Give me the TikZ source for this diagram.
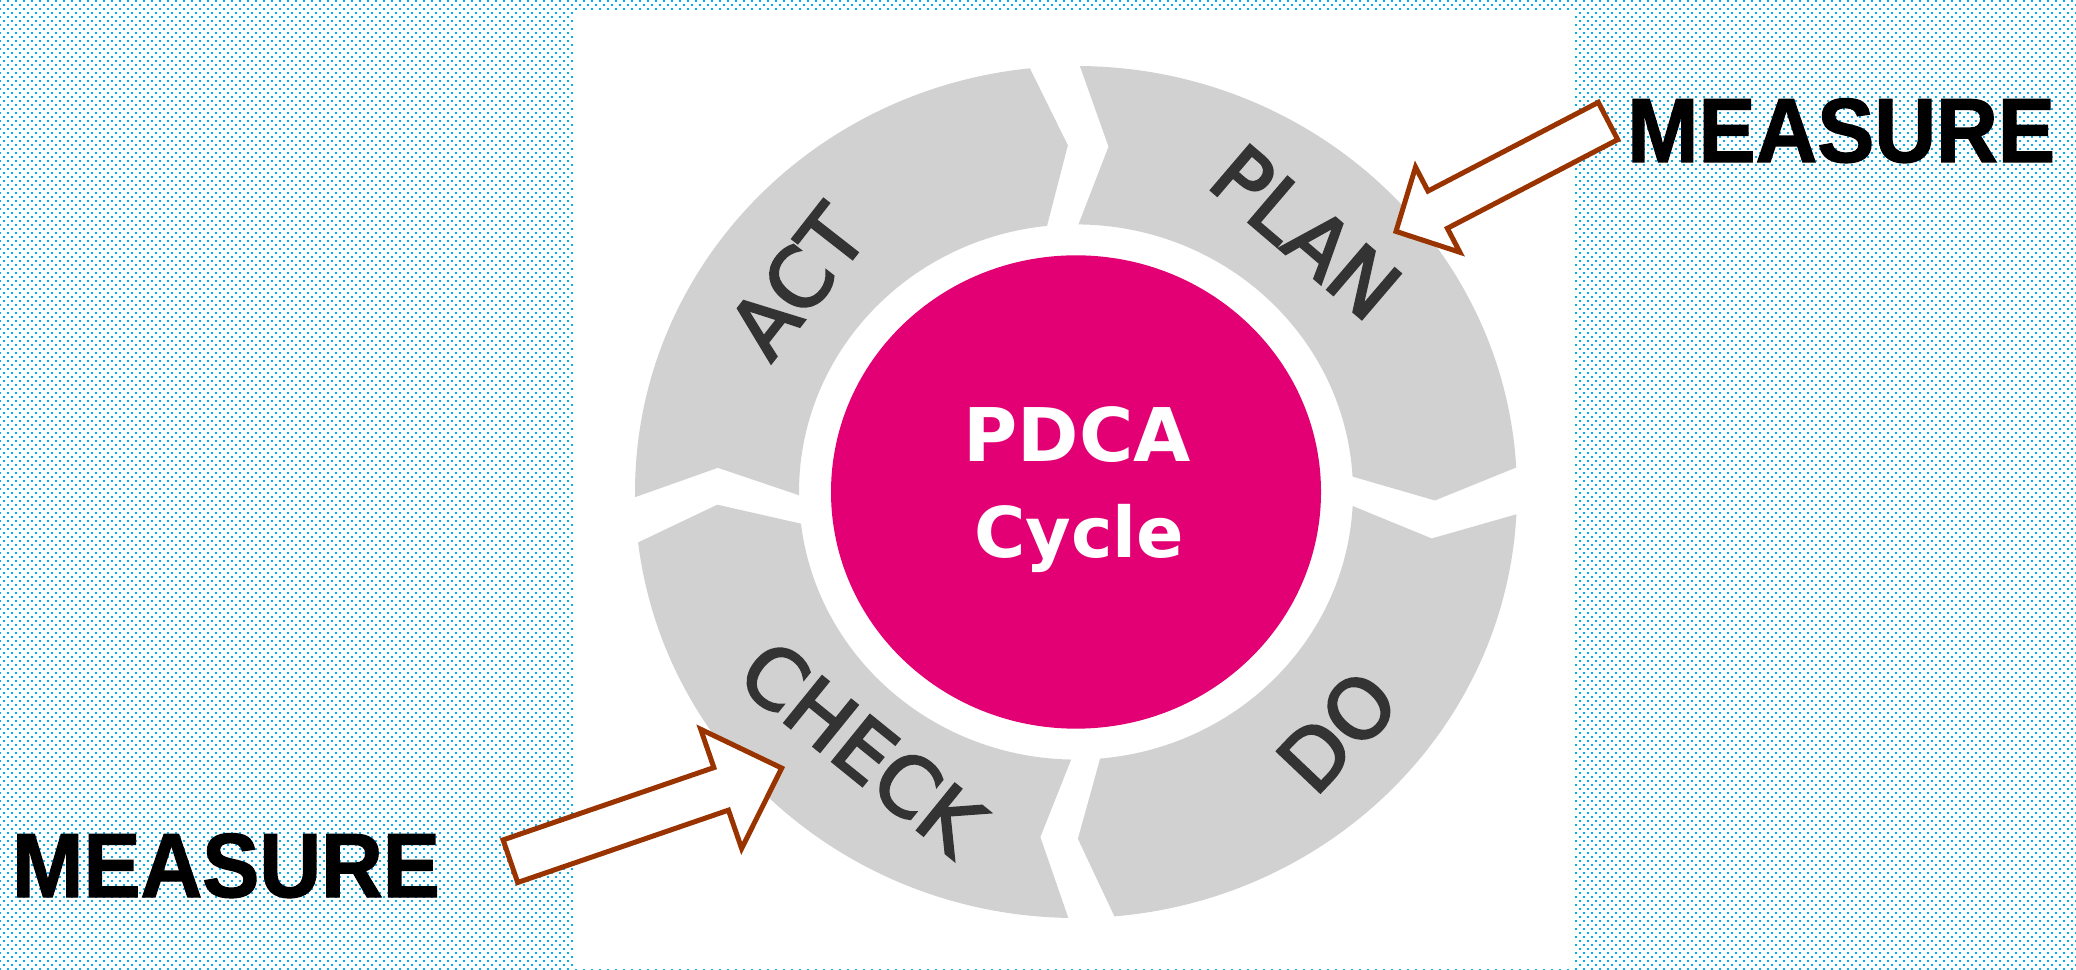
\documentclass[tikz,border=0pt]{standalone}
\usepackage{fontspec}
\usepackage{tikz}
\usetikzlibrary{calc,positioning,patterns.meta}
\newfontfamily\ringfont{DejaVu Sans}
\newfontfamily\labelfont[FakeBold=3]{DejaVu Sans}
\newfontfamily\measurefont[FakeStretch=0.94,FakeBold=1.5]{Liberation Sans}
\definecolor{dotblue}{RGB}{0,176,240}
\definecolor{seggrey}{RGB}{209,209,209}
\definecolor{hubpink}{RGB}{226,0,116}
\definecolor{labelgrey}{RGB}{51,51,51}
\definecolor{arrowred}{RGB}{153,51,0}
\newcommand{\segout}{441}
\newcommand{\segin}{277}
\newcommand{\segmid}{359}
\newcommand{\blockarrow}[5]{\draw[measurearrow] (#2)
	-- ($(#2)!#3pt!(#1)!#4pt!90:(#1)$)  -- ($(#2)!#3pt!(#1)!#5pt!90:(#1)$)
	-- ($(#1)!#5pt!-90:(#2)$)           -- ($(#1)!#5pt!90:(#2)$)
	-- ($(#2)!#3pt!(#1)!#5pt!-90:(#1)$) -- ($(#2)!#3pt!(#1)!#4pt!-90:(#1)$) -- cycle;}

\begin{document}
\begin{tikzpicture}[x=1pt,y=1pt,
	seglabel/.style={text=labelgrey,inner sep=0pt,font={\labelfont\fontsize{82}{84}\selectfont}},
	hubtext/.style={text=white,inner sep=0pt,anchor=base},
	measure/.style={inner sep=0pt,anchor=base west,font={\measurefont\bfseries\fontsize{91}{100}\selectfont}},
	measurearrow/.style={draw=arrowred,fill=white,line width=5pt,line join=miter}]
\useasboundingbox (0,0) rectangle (2076,969);
\fill[pattern={Dots[distance=5.657pt,angle=45,radius=1.3pt]},pattern color=dotblue] (0,0) rectangle (2076,969);
\fill[white] (575,0) rectangle (1573,959);
%
\begin{scope}[shift={(1076,477)},yscale=0.966]
\foreach \s/\e in {89.5/3.3,-3/-85,-91/-173.2,180.7/96}
	\fill[seggrey] (\s:\segout) arc[start angle=\s,end angle=\e,radius=\segout] -- ({\e-4.7}:\segmid)
		-- (\e:\segin) arc[start angle=\e,end angle=\s,radius=\segin] -- ({\s-4.7}:\segmid) -- cycle;
\fill[hubpink] (0,0) circle[radius=245];
\node[seglabel,rotate=-40.5] (plan)  at (49.5:354)  {PLAN};
\node[seglabel,rotate=46.5]  (do)    at (-43.5:360) {DO};
\node[seglabel,rotate=-39]   (check) at (-129:340)  {CHECK};
\node[seglabel,rotate=52]    (act)   at (142:354)   {ACT};
\end{scope}
%
\node[hubtext,font={\ringfont\bfseries\fontsize{74}{80}\selectfont}] (pdca)  at (1077,507) {PDCA};
\node[hubtext,font={\ringfont\bfseries\fontsize{70}{80}\selectfont}] (cycle) at (1079,411) {Cycle};
%
\coordinate (plantip)   at (1396,737.6);
\coordinate (plantail)  at (1608,848);
\coordinate (checktip)  at (781.7,200.9);
\coordinate (checktail) at (510.4,107.8);
\blockarrow{plantail}{plantip}{47}{48}{21}
\blockarrow{checktail}{checktip}{64}{63}{22.5}
%
\node[measure] (measureplan)  at (1627,807) {MEASURE};
\node[measure] (measurecheck) at (12,72)    {MEASURE};
\end{tikzpicture}
\end{document}
